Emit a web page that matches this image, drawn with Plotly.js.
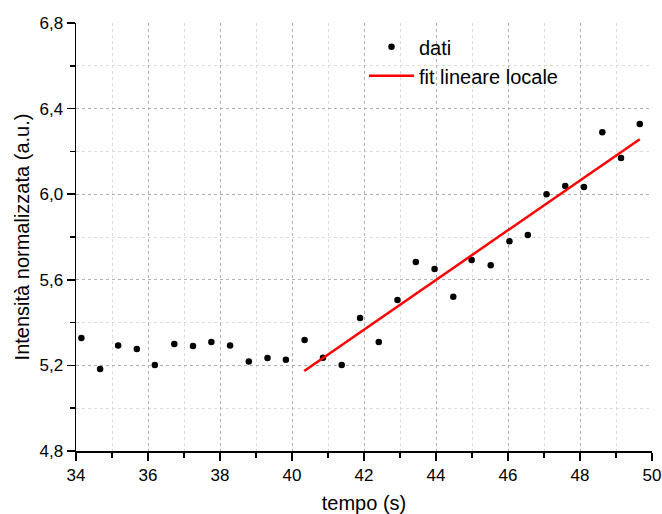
<!DOCTYPE html>
<html>
<head>
<meta charset="utf-8">
<script src="https://cdn.plot.ly/plotly-3.0.1.min.js"></script>
<style>html,body{margin:0;padding:0;background:#fff;}#chart{width:662px;height:514px;}</style>
</head>
<body>
<div id="chart"></div>
<script>
var tempo = [34.15, 34.67, 35.17, 35.69, 36.19, 36.73, 37.25, 37.76, 38.28, 38.80,
             39.32, 39.83, 40.35, 40.86, 41.38, 41.89, 42.41, 42.93, 43.44, 43.96,
             44.48, 44.99, 45.52, 46.04, 46.55, 47.07, 47.59, 48.11, 48.62, 49.14, 49.66];
var intensita = [5.328, 5.183, 5.293, 5.277, 5.202, 5.300, 5.291, 5.309, 5.293, 5.218,
                 5.235, 5.226, 5.319, 5.236, 5.202, 5.421, 5.309, 5.506, 5.683, 5.650,
                 5.521, 5.693, 5.668, 5.780, 5.809, 6.000, 6.038, 6.034, 6.289, 6.169, 6.328];
var fitX = [40.34, 49.66];
var fitY = [5.174, 6.257];

var traces = [
  {x: tempo, y: intensita, type: 'scatter', mode: 'markers', name: 'dati',
   marker: {color: '#000000', size: 6.5, symbol: 'circle'}},
  {x: fitX, y: fitY, type: 'scatter', mode: 'lines', name: 'fit lineare locale',
   line: {color: '#ff0000', width: 2.5}}
];

var fontFam = 'Liberation Sans, Arial, sans-serif';
var layout = {
  width: 662, height: 514,
  margin: {l: 76, r: 10, t: 23, b: 63},
  paper_bgcolor: '#ffffff', plot_bgcolor: '#ffffff',
  separators: ',.',
  font: {family: fontFam, size: 17, color: '#000000'},
  showlegend: true,
  legend: {x: 0.5, y: 0.99, xanchor: 'left', yanchor: 'top', bgcolor: 'rgba(0,0,0,0)',
           font: {family: fontFam, size: 20, color: '#000000'}, itemwidth: 45, tracegroupgap: 0},
  xaxis: {
    range: [34, 50], dtick: 2, tick0: 34, showline: true, linecolor: '#000000', linewidth: 1.5,
    ticks: 'outside', ticklen: 8, tickwidth: 1.5, tickcolor: '#000000',
    showgrid: true, gridcolor: '#b0b0b0', griddash: 'dot', gridwidth: 1, zeroline: false,
    tickfont: {family: fontFam, size: 17}, ticklabeloverflow: 'allow',
    minor: {dtick: 1, ticks: 'outside', ticklen: 5, tickwidth: 1.5, tickcolor: '#000000',
            showgrid: true, gridcolor: '#dcdcdc', griddash: 'dot', gridwidth: 1},
    title: {text: 'tempo (s)', font: {family: fontFam, size: 20}, standoff: 12}
  },
  yaxis: {
    range: [4.8, 6.8], dtick: 0.4, tick0: 4.8, tickformat: '.1f', showline: true,
    linecolor: '#000000', linewidth: 1.5,
    ticks: 'outside', ticklen: 8, tickwidth: 1.5, tickcolor: '#000000',
    showgrid: true, gridcolor: '#b0b0b0', griddash: 'dot', gridwidth: 1, zeroline: false,
    tickfont: {family: fontFam, size: 17},
    minor: {dtick: 0.2, ticks: 'outside', ticklen: 5, tickwidth: 1.5, tickcolor: '#000000',
            showgrid: true, gridcolor: '#dcdcdc', griddash: 'dot', gridwidth: 1},
    title: {text: 'Intensità normalizzata (a.u.)', font: {family: fontFam, size: 20}, standoff: 4}
  }
};

Plotly.newPlot('chart', traces, layout, {displayModeBar: false, staticPlot: true});
</script>
</body>
</html>
